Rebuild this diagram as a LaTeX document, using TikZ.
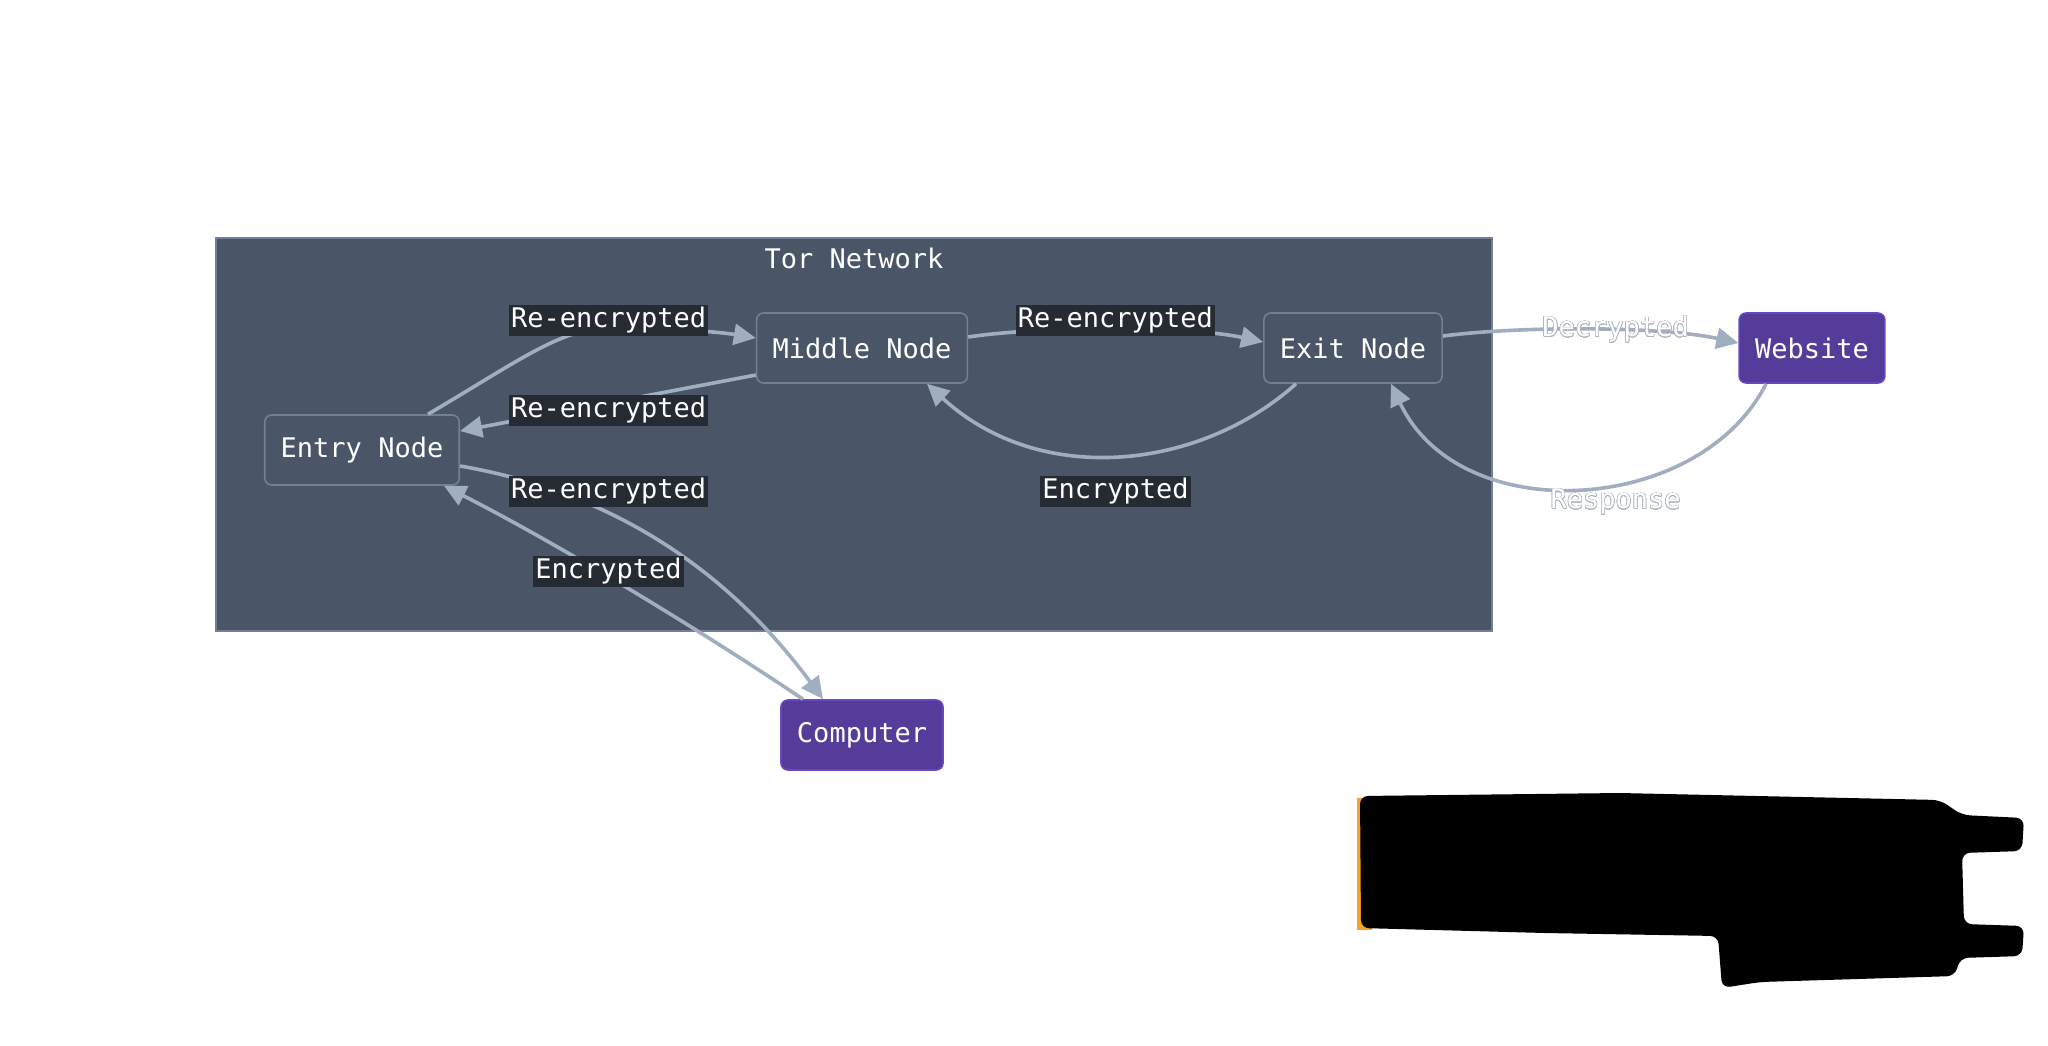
\documentclass[tikz,border=0pt]{standalone}
\usepackage{fontspec}
\setmainfont{DejaVu Sans Mono}
\usepackage{contour}
\usetikzlibrary{arrows.meta}
\definecolor{clusterfill}{HTML}{4A5568}
\definecolor{clusterline}{HTML}{718096}
\definecolor{edgecol}{HTML}{A0AEC0}
\definecolor{ghostline}{HTML}{AEB6C2}
\definecolor{lblbg}{HTML}{262B33}
\definecolor{purplefill}{HTML}{553C9A}
\definecolor{purpleline}{HTML}{6B46C1}
\definecolor{blobyellow}{HTML}{F5A623}
\contourlength{0.3pt}
\contournumber{24}
\tikzset{
  txt/.style={font=\fontsize{13.5pt}{16pt}\selectfont, text=white},
  torbox/.style={txt, draw=clusterline, line width=0.8pt, fill=clusterfill, rounded corners=3.5pt,
    minimum height=35pt, inner xsep=8pt},
  endbox/.style={txt, draw=purpleline, line width=0.8pt, fill=purplefill, rounded corners=3.5pt,
    minimum height=35pt, inner xsep=8pt},
  conn/.style={draw=edgecol, line width=1.8pt, -{Triangle[length=11pt,width=10.5pt]}},
  lbl/.style={txt, fill=lblbg, inner xsep=1pt, inner ysep=1.3pt},
  ghost/.style={txt, inner sep=1pt},
}
\begin{document}
\begin{tikzpicture}[x=0.5pt,y=-0.5pt]
\useasboundingbox (0,0) rectangle (2048,1045);
% cluster
\node[draw=clusterline, line width=1pt, fill=clusterfill, minimum width=638pt, minimum height=196.5pt,
  inner sep=0pt] (cluster) at (853.5,434.2) {};
\node[txt] (title) at (854,258) {Tor Network};
% nodes
\node[torbox] (entry) at (362,450) {Entry Node};
\node[torbox] (middle) at (862,348) {Middle Node};
\node[torbox] (exit) at (1353,348) {Exit Node};
\node[endbox] (website) at (1812,348) {Website};
\node[endbox] (computer) at (862,735) {Computer};
% edges
\draw[conn] ([xshift=33pt]entry.north) .. controls (520,360) and (560,329) .. (608,328)
  .. controls (660,327) and (720,332) .. ([yshift=5pt]middle.west);
\draw[conn] ([yshift=-13.5pt]middle.west) -- ([yshift=9.5pt]entry.east);
\draw[conn] ([yshift=-8pt]entry.east) .. controls (600,490) and (720,560) .. ([xshift=-19.5pt]computer.north);
\draw[conn] ([xshift=-29.5pt]computer.north) .. controls (700,630) and (560,545) .. ([xshift=41pt]entry.south);
\draw[conn] ([yshift=5.5pt]middle.east) .. controls (1040,326) and (1190,326) .. ([yshift=3pt]exit.west);
\draw[conn] ([xshift=-28.5pt]exit.south) .. controls (1200,470) and (1040,488) .. ([xshift=32.5pt]middle.south);
\draw[conn] ([yshift=6pt]exit.east) .. controls (1520,326) and (1660,326) .. ([yshift=2.5pt]website.west);
\draw[conn] ([xshift=-23pt]website.south) .. controls (1700,515) and (1460,530) .. ([xshift=19pt]exit.south);
% labels
\node[lbl] (l1) at (608.6,320.5) {Re-encrypted};
\node[lbl] (l2) at (608.6,410.5) {Re-encrypted};
\node[lbl] (l3) at (608.6,491.5) {Re-encrypted};
\node[lbl] (l4) at (608.6,571.5) {Encrypted};
\node[lbl] (l5) at (1115.4,320.5) {Re-encrypted};
\node[lbl] (l6) at (1115.4,491.5) {Encrypted};
\node[ghost] (l7) at (1615.6,329.5) {\contour{ghostline}{Decrypted}};
\node[ghost] (l8) at (1615.6,502) {\contour{ghostline}{Response}};
% redaction
\fill[blobyellow] (1357,798) rectangle (1372,930);
\fill[black, rounded corners=4pt] (1360,796) -- (1620,793) -- (1940,800) -- (1962,815) -- (2024,818)
  -- (2022,851) -- (1962,853) -- (1964,924) -- (2024,926) -- (2022,956) -- (1960,958)
  -- (1955,976) -- (1760,982) -- (1722,988) -- (1718,936) -- (1545,933) -- (1361,928) -- cycle;
\end{tikzpicture}
\end{document}
